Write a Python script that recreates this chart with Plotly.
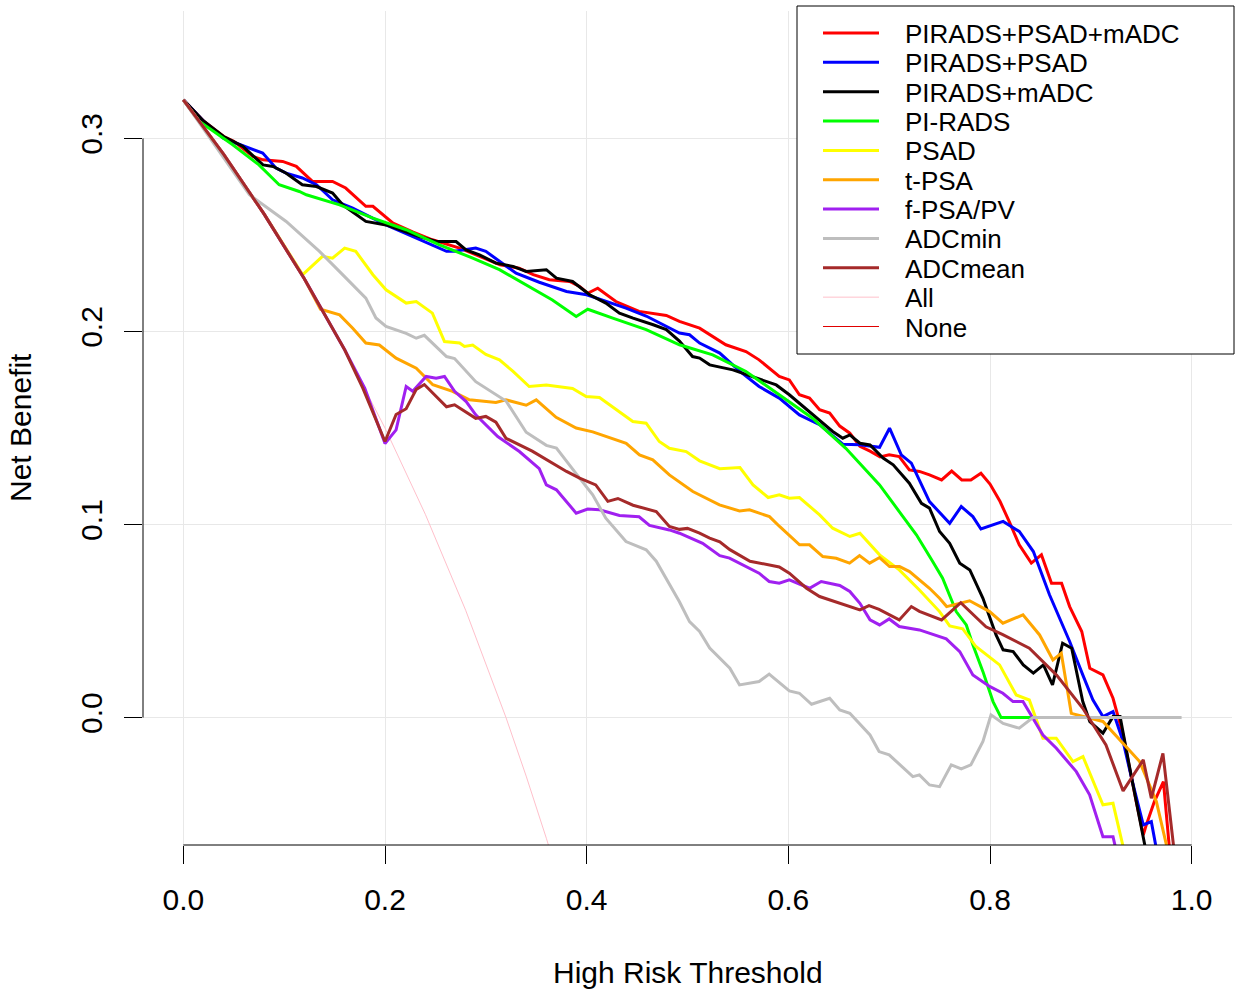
import plotly.graph_objects as go

# ---------------- data ----------------
x_all = [0, 0.04, 0.08, 0.12, 0.16, 0.20, 0.24, 0.28, 0.32, 0.34, 0.36, 0.37]
y_all = [0.32, 0.2917, 0.2609, 0.2273, 0.1905, 0.15, 0.1053, 0.0556, 0.0, -0.0303, -0.0625, -0.0794]

x_red = [0, 0.02, 0.04, 0.05, 0.069, 0.079, 0.0985, 0.112, 0.128, 0.148, 0.161, 0.181, 0.188, 0.208, 0.228,
         0.247, 0.274, 0.294, 0.314, 0.333, 0.347, 0.363, 0.383, 0.393, 0.401, 0.411, 0.429, 0.452, 0.479,
         0.492, 0.512, 0.538, 0.558, 0.571, 0.591, 0.601, 0.611, 0.621, 0.631, 0.641, 0.651, 0.661, 0.671,
         0.681, 0.691, 0.700, 0.710, 0.720, 0.730, 0.740, 0.752, 0.762, 0.772, 0.781, 0.791, 0.800, 0.810,
         0.819, 0.829, 0.841, 0.851, 0.861, 0.871, 0.879, 0.891, 0.899, 0.912, 0.922, 0.932, 0.945, 0.952,
         0.955, 0.963, 0.972, 0.978, 0.985]
y_red = [0.32, 0.309, 0.301, 0.2985, 0.2907, 0.2889, 0.2881, 0.2855, 0.2777, 0.2777, 0.2743, 0.2648, 0.2648,
         0.2561, 0.2515, 0.2475, 0.2432, 0.2389, 0.2346, 0.2328, 0.2294, 0.2268, 0.2259, 0.2233, 0.2198, 0.2224,
         0.2155, 0.2104, 0.2083, 0.2052, 0.2017, 0.1931, 0.1896, 0.1853, 0.1767, 0.1749, 0.1672, 0.1655, 0.1595,
         0.1577, 0.1510, 0.1473, 0.1405, 0.1380, 0.1350, 0.1361, 0.1352, 0.1283, 0.1275, 0.1257, 0.1231, 0.1277,
         0.1231, 0.1231, 0.1266, 0.1210, 0.1119, 0.1016, 0.0895, 0.0800, 0.0843, 0.0696, 0.0696, 0.0575, 0.0446,
         0.0255, 0.0221, 0.0100, -0.009, -0.0435, -0.0608, -0.0556, -0.0435, -0.0332, -0.068, -0.12]

x_blue = [0, 0.02, 0.04, 0.06, 0.0787, 0.092, 0.102, 0.118, 0.132, 0.148, 0.168, 0.201, 0.228, 0.261, 0.269,
          0.290, 0.300, 0.314, 0.330, 0.353, 0.380, 0.400, 0.419, 0.439, 0.459, 0.472, 0.492, 0.502, 0.512,
          0.532, 0.552, 0.571, 0.591, 0.611, 0.631, 0.654, 0.671, 0.6905, 0.7004, 0.712, 0.722, 0.740, 0.760,
          0.7715, 0.783, 0.791, 0.813, 0.829, 0.843, 0.859, 0.879, 0.892, 0.902, 0.912, 0.922, 0.932, 0.942,
          0.952, 0.960, 0.965, 0.970]
y_blue = [0.32, 0.309, 0.300, 0.296, 0.2924, 0.2846, 0.2820, 0.2795, 0.2760, 0.2682, 0.2639, 0.2552, 0.2492,
          0.2415, 0.2415, 0.2432, 0.2415, 0.2360, 0.2302, 0.2255, 0.2207, 0.2190, 0.2155, 0.2121, 0.2080, 0.2045,
          0.1992, 0.1983, 0.1940, 0.1888, 0.1793, 0.1715, 0.1655, 0.1568, 0.1517, 0.1416, 0.1413, 0.1400, 0.1499,
          0.1361, 0.1318, 0.1119, 0.1006, 0.1093, 0.1041, 0.0977, 0.1016, 0.0964, 0.0860, 0.0636, 0.0394, 0.0221,
          0.0092, 0.0005, 0.0031, -0.0124, -0.0349, -0.0556, -0.0539, -0.068, -0.09]

x_black = [0, 0.02, 0.04, 0.059, 0.079, 0.089, 0.102, 0.118, 0.132, 0.148, 0.158, 0.181, 0.201, 0.234, 0.251,
           0.2705, 0.2804, 0.2937, 0.310, 0.327, 0.340, 0.360, 0.370, 0.386, 0.403, 0.419, 0.4325, 0.446, 0.466,
           0.479, 0.492, 0.505, 0.512, 0.522, 0.545, 0.568, 0.588, 0.601, 0.624, 0.644, 0.654, 0.661, 0.671,
           0.681, 0.694, 0.704, 0.720, 0.732, 0.740, 0.750, 0.760, 0.770, 0.780, 0.793, 0.806, 0.813, 0.823,
           0.833, 0.843, 0.853, 0.862, 0.872, 0.881, 0.892, 0.899, 0.912, 0.922, 0.929, 0.940, 0.955]
y_black = [0.32, 0.309, 0.301, 0.2959, 0.2863, 0.2855, 0.2820, 0.2760, 0.2751, 0.2717, 0.2656, 0.2570, 0.2552,
           0.2492, 0.2466, 0.2466, 0.2423, 0.2397, 0.2354, 0.2337, 0.2311, 0.2320, 0.2276, 0.2259, 0.2190, 0.2147,
           0.2095, 0.2069, 0.2035, 0.2010, 0.1950, 0.1870, 0.1862, 0.1827, 0.1801, 0.1758, 0.1723, 0.1672, 0.1568,
           0.1482, 0.1447, 0.1464, 0.1421, 0.1412, 0.1344, 0.1309, 0.1214, 0.1110, 0.1085, 0.0964, 0.0903, 0.0800,
           0.0765, 0.0618, 0.0428, 0.0351, 0.0342, 0.0273, 0.0230, 0.0273, 0.0169, 0.0385, 0.0359, 0.0083, -0.0021,
           -0.0081, 0.0005, 0.0005, -0.030, -0.070]

x_green = [0, 0.016, 0.049, 0.075, 0.095, 0.115, 0.122, 0.155, 0.188, 0.221, 0.254, 0.287, 0.3135, 0.340, 0.366,
           0.3896, 0.4011, 0.4259, 0.459, 0.492, 0.525, 0.558, 0.591, 0.624, 0.657, 0.6905, 0.710, 0.727, 0.743,
           0.753, 0.7665, 0.7765, 0.783, 0.793, 0.803, 0.811, 0.842]
y_green = [0.32, 0.3088, 0.2967, 0.2863, 0.2760, 0.2725, 0.2708, 0.2656, 0.2587, 0.2527, 0.2449, 0.2380, 0.2320,
           0.2242, 0.2163, 0.2078, 0.2115, 0.2069, 0.2010, 0.1931, 0.1879, 0.1793, 0.1672, 0.1551, 0.1395, 0.1205,
           0.1067, 0.0947, 0.0810, 0.0722, 0.0549, 0.0480, 0.0377, 0.0238, 0.0083, 0.0, 0.0]

x_yellow = [0, 0.04, 0.08, 0.1184, 0.138, 0.148, 0.160, 0.171, 0.188, 0.201, 0.221, 0.231, 0.247, 0.259, 0.274,
            0.2788, 0.287, 0.300, 0.3135, 0.327, 0.343, 0.360, 0.386, 0.3995, 0.4127, 0.4325, 0.4458, 0.459, 0.472,
            0.482, 0.4987, 0.512, 0.532, 0.552, 0.565, 0.580, 0.591, 0.601, 0.611, 0.631, 0.644, 0.661, 0.671,
            0.6905, 0.710, 0.730, 0.750, 0.760, 0.773, 0.786, 0.8095, 0.826, 0.839, 0.8525, 0.8657, 0.8823, 0.8922,
            0.912, 0.922, 0.932, 0.940]
y_yellow = [0.32, 0.2917, 0.2609, 0.2294, 0.2389, 0.2380, 0.2432, 0.2415, 0.2294, 0.2216, 0.2147, 0.2155, 0.2095,
            0.1948, 0.1940, 0.1922, 0.1930, 0.1881, 0.1853, 0.1793, 0.1715, 0.1723, 0.1705, 0.1663, 0.1658, 0.1585,
            0.1534, 0.1525, 0.1430, 0.1395, 0.1378, 0.1330, 0.1289, 0.1295, 0.1205, 0.1140, 0.1154, 0.1136, 0.1140,
            0.1050, 0.0981, 0.0938, 0.0955, 0.0843, 0.0765, 0.0661, 0.0549, 0.0475, 0.0460, 0.0368, 0.0273, 0.0117,
            0.0091, -0.0107, -0.0107, -0.0228, -0.0202, -0.0452, -0.0444, -0.0668, -0.09]

x_orange = [0, 0.04, 0.08, 0.12, 0.136, 0.155, 0.168, 0.181, 0.1944, 0.211, 0.231, 0.2474, 0.267, 0.2837, 0.310,
            0.320, 0.340, 0.350, 0.3697, 0.3896, 0.406, 0.4259, 0.4392, 0.4524, 0.4656, 0.482, 0.4954, 0.5053,
            0.5317, 0.5516, 0.5615, 0.5813, 0.5913, 0.6111, 0.621, 0.6342, 0.6475, 0.6607, 0.6706, 0.6806, 0.6905,
            0.7004, 0.7103, 0.7202, 0.740, 0.750, 0.757, 0.770, 0.7798, 0.7996, 0.8128, 0.8327, 0.8492, 0.8624,
            0.8707, 0.8806, 0.8922, 0.912, 0.9484, 0.965, 0.975, 0.980]
y_orange = [0.32, 0.2917, 0.2609, 0.2273, 0.2115, 0.2086, 0.2017, 0.1940, 0.1930, 0.1862, 0.1810, 0.1724, 0.1690,
            0.1646, 0.1632, 0.1646, 0.1618, 0.1646, 0.1555, 0.1500, 0.1480, 0.1447, 0.1421, 0.1361, 0.1335, 0.1257,
            0.1205, 0.1171, 0.1102, 0.1070, 0.1076, 0.1041, 0.0990, 0.0895, 0.0895, 0.0834, 0.0825, 0.0800, 0.0839,
            0.0800, 0.0829, 0.0782, 0.0782, 0.0756, 0.0670, 0.0618, 0.0575, 0.0590, 0.0605, 0.0549, 0.0489, 0.0532,
            0.0428, 0.0299, 0.0333, 0.0022, 0.0005, -0.002, -0.0228, -0.0435, -0.066, -0.08]

x_purple = [0, 0.04, 0.08, 0.12, 0.16, 0.18, 0.20, 0.211, 0.221, 0.2275, 0.2408, 0.2507, 0.259, 0.269, 0.2805,
            0.290, 0.3118, 0.3333, 0.353, 0.360, 0.370, 0.3896, 0.401, 0.4127, 0.4325, 0.452, 0.4623, 0.482, 0.492,
            0.515, 0.532, 0.5417, 0.571, 0.581, 0.591, 0.601, 0.621, 0.6326, 0.651, 0.661, 0.671, 0.681, 0.6905,
            0.700, 0.710, 0.730, 0.7566, 0.770, 0.783, 0.800, 0.8128, 0.8228, 0.8327, 0.8525, 0.8658, 0.8856,
            0.8988, 0.912, 0.922, 0.925, 0.930]
y_purple = [0.32, 0.2917, 0.2609, 0.2273, 0.1905, 0.1705, 0.1420, 0.1490, 0.1715, 0.1690, 0.1767, 0.1758, 0.1767,
            0.1690, 0.1637, 0.1568, 0.1456, 0.1378, 0.1290, 0.1205, 0.1180, 0.1059, 0.1080, 0.1076, 0.1047, 0.1040,
            0.0995, 0.0972, 0.0955, 0.0903, 0.0839, 0.0826, 0.0748, 0.0705, 0.0696, 0.0713, 0.0670, 0.0705, 0.0684,
            0.0653, 0.0592, 0.0506, 0.0480, 0.0511, 0.0472, 0.0454, 0.0408, 0.0342, 0.0221, 0.0160, 0.0126, 0.0083,
            0.0083, -0.0090, -0.0159, -0.0280, -0.0400, -0.0617, -0.0617, -0.068, -0.08]

x_gray = [0, 0.02, 0.04, 0.0655, 0.102, 0.135, 0.155, 0.181, 0.191, 0.201, 0.221, 0.231, 0.239, 0.261, 0.269,
          0.290, 0.320, 0.340, 0.360, 0.370, 0.393, 0.406, 0.419, 0.439, 0.459, 0.469, 0.492, 0.502, 0.512, 0.522,
          0.542, 0.5516, 0.571, 0.581, 0.601, 0.611, 0.623, 0.641, 0.651, 0.661, 0.681, 0.690, 0.700, 0.7235,
          0.730, 0.740, 0.750, 0.7616, 0.7715, 0.781, 0.793, 0.801, 0.813, 0.829, 0.8426, 0.990]
y_gray = [0.32, 0.305, 0.2905, 0.2708, 0.2570, 0.2415, 0.2310, 0.2173, 0.2070, 0.2026, 0.1990, 0.1965, 0.1980,
          0.1870, 0.1860, 0.1740, 0.1640, 0.1478, 0.1410, 0.1396, 0.1240, 0.1154, 0.1033, 0.0912, 0.0869, 0.0810,
          0.0600, 0.0497, 0.0446, 0.0360, 0.0256, 0.0169, 0.0187, 0.0225, 0.0138, 0.0126, 0.0069, 0.0100, 0.0040,
          0.0022, -0.0090, -0.0176, -0.0193, -0.0306, -0.0297, -0.0349, -0.0358, -0.0245, -0.0266, -0.0245,
          -0.0124, 0.0014, -0.0030, -0.0055, 0.0, 0.0]

x_brown = [0, 0.04, 0.08, 0.12, 0.16, 0.178, 0.20, 0.211, 0.221, 0.231, 0.239, 0.261, 0.269, 0.290, 0.300, 0.310,
           0.320, 0.346, 0.380, 0.393, 0.409, 0.421, 0.431, 0.446, 0.469, 0.482, 0.492, 0.500, 0.512, 0.522, 0.532,
           0.542, 0.562, 0.591, 0.601, 0.618, 0.631, 0.661, 0.671, 0.680, 0.690, 0.710, 0.722, 0.730, 0.752,
           0.771, 0.783, 0.796, 0.8127, 0.839, 0.866, 0.892, 0.915, 0.932, 0.952, 0.960, 0.9715, 0.983, 0.985]
y_brown = [0.32, 0.2917, 0.2609, 0.2273, 0.1905, 0.1706, 0.1430, 0.1570, 0.1600, 0.1700, 0.1725, 0.1610, 0.1620,
           0.1550, 0.1560, 0.1530, 0.1447, 0.1380, 0.1275, 0.1240, 0.1205, 0.1120, 0.1135, 0.1100, 0.1067, 0.0990,
           0.0975, 0.0980, 0.0955, 0.0930, 0.0910, 0.0870, 0.0810, 0.0780, 0.0748, 0.0670, 0.0627, 0.0575, 0.0558,
           0.0580, 0.0560, 0.0506, 0.0575, 0.0550, 0.0506, 0.0595, 0.0533, 0.0470, 0.0430, 0.0359, 0.0220, 0.0048,
           -0.0142, -0.0380, -0.0219, -0.0418, -0.0185, -0.068, -0.08]

series_names = ["PIRADS+PSAD+mADC", "PIRADS+PSAD", "PIRADS+mADC", "PI-RADS", "PSAD", "t-PSA",
                "f-PSA/PV", "ADCmin", "ADCmean", "All", "None"]
series_colors = ["#FF0000", "#0000FF", "#000000", "#00FF00", "#FFFF00", "#FFA500",
                 "#A020F0", "#BEBEBE", "#A52A2A", "#FFC0CB", "#E00000"]
series_widths = [3, 3, 3, 3, 3, 3, 3, 3, 3, 1.0, 1.2]

x_ticks = [0.0, 0.2, 0.4, 0.6, 0.8, 1.0]
x_ticktext = ["0.0", "0.2", "0.4", "0.6", "0.8", "1.0"]
y_ticks = [0.0, 0.1, 0.2, 0.3]
y_ticktext = ["0.0", "0.1", "0.2", "0.3"]
x_title = "High Risk Threshold"
y_title = "Net Benefit"

# ---------------- layout constants (pixels) ----------------
W, H = 1241, 995
L, R, T, B = 143, 9, 11, 150
PW, PH = W - L - R, H - T - B
FONT = "Liberation Sans, Arial, sans-serif"
FS = 30
LEG_FS = 26


def px(xp):
    return (xp - L) / PW


def py(yp):
    return (H - B - yp) / PH


fig = go.Figure()

curves = [(x_red, y_red), (x_blue, y_blue), (x_black, y_black), (x_green, y_green),
          (x_yellow, y_yellow), (x_orange, y_orange), (x_purple, y_purple),
          (x_gray, y_gray), (x_brown, y_brown)]

# treat-all curve drawn first (underneath)
fig.add_trace(go.Scatter(x=x_all, y=y_all, mode="lines", name="All", showlegend=False,
                         line=dict(color=series_colors[9], width=series_widths[9])))
for i, (xs, ys) in enumerate(curves):
    fig.add_trace(go.Scatter(x=xs, y=ys, mode="lines", name=series_names[i], showlegend=False,
                             line=dict(color=series_colors[i], width=series_widths[i])))

# axis lines only over the tick range (base-R style)
shapes = [
    dict(type="line", xref="x", yref="paper", x0=x_ticks[0], x1=x_ticks[-1], y0=0, y1=0,
         line=dict(color="black", width=1)),
    dict(type="line", xref="paper", yref="y", x0=0, x1=0, y0=y_ticks[0], y1=y_ticks[-1],
         line=dict(color="black", width=1)),
]

# legend box (manual, R style)
box = (797, 6, 1234, 354)
shapes.append(dict(type="rect", xref="paper", yref="paper", x0=px(box[0]), x1=px(box[2]),
                   y0=py(box[3]), y1=py(box[1]), line=dict(color="black", width=1),
                   fillcolor="white", layer="above"))
annotations = []
row0, step = 33, 29.35
for i, name in enumerate(series_names):
    yy = row0 + i * step
    shapes.append(dict(type="line", xref="paper", yref="paper", x0=px(823), x1=px(879),
                       y0=py(yy), y1=py(yy), layer="above",
                       line=dict(color=series_colors[i], width=series_widths[i])))
    annotations.append(dict(xref="paper", yref="paper", x=px(903), y=py(yy + 1), text=name,
                            showarrow=False, xanchor="left", yanchor="middle",
                            font=dict(family=FONT, size=LEG_FS, color="black")))

annotations.append(dict(xref="paper", yref="paper", x=0.5, y=py(972), text=x_title, showarrow=False,
                        xanchor="center", yanchor="middle", font=dict(family=FONT, size=FS, color="black")))
annotations.append(dict(xref="paper", yref="paper", x=px(20), y=0.5, text=y_title, showarrow=False,
                        textangle=-90, xanchor="center", yanchor="middle",
                        font=dict(family=FONT, size=FS, color="black")))

fig.update_layout(
    width=W, height=H, margin=dict(l=L, r=R, t=T, b=B, pad=0),
    paper_bgcolor="white", plot_bgcolor="white",
    showlegend=False, shapes=shapes, annotations=annotations,
    font=dict(family=FONT, size=FS, color="black"),
    xaxis=dict(range=[-0.04, 1.04], tickvals=x_ticks, ticktext=x_ticktext, ticks="outside",
               ticklen=18, tickcolor="black", tickwidth=1, showline=False, zeroline=False,
               showgrid=True, gridcolor="#E8E8E8", gridwidth=1, ticklabelstandoff=10,
               tickfont=dict(family=FONT, size=FS, color="black")),
    yaxis=dict(range=[-0.066, 0.366], tickvals=y_ticks, ticktext=y_ticktext, ticks="outside",
               ticklen=18, tickcolor="black", tickwidth=1, showline=False, zeroline=False,
               showgrid=True, gridcolor="#E8E8E8", gridwidth=1, tickangle=-90, ticklabelstandoff=10,
               tickfont=dict(family=FONT, size=FS, color="black")),
)

fig.write_html("out.html", config={"displayModeBar": False},
               post_script="document.body.style.margin='0';")
